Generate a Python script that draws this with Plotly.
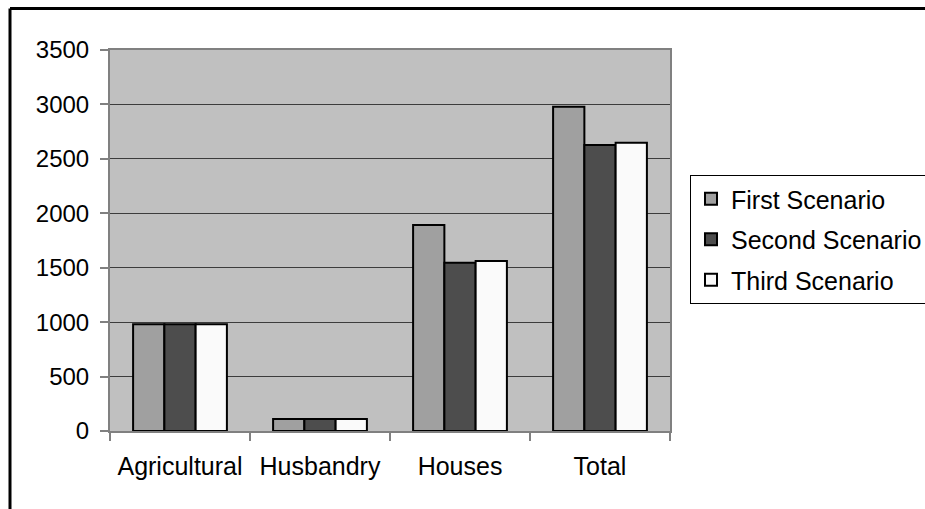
import plotly.graph_objects as go

# Categories and scenario values
categories = ["Agricultural", "Husbandry", "Houses", "Total"]
first_scenario = [980, 110, 1893, 2978]
second_scenario = [980, 110, 1545, 2628]
third_scenario = [980, 110, 1562, 2647]

series_names = ["First Scenario", "Second Scenario", "Third Scenario"]
series_values = [first_scenario, second_scenario, third_scenario]
series_colors = ["#A0A0A0", "#4D4D4D", "#FAFAFA"]

y_ticks = [0, 500, 1000, 1500, 2000, 2500, 3000, 3500]

W, H = 925, 509
L, R, T, B = 110, 255, 50, 78
pw, ph = W - L - R, H - T - B

def px_x(p):
    return (p - L) / pw

def px_y(p):
    return (H - B - p) / ph

fig = go.Figure()
for i, (name, vals, col) in enumerate(zip(series_names, series_values, series_colors)):
    fig.add_trace(go.Bar(
        x=categories, y=vals, name=name,
        marker=dict(color=col, line=dict(color="#000000", width=2)),
        legendgroup=f"g{i}",
    ))

font_family = "Liberation Sans, Arial, sans-serif"

fig.update_layout(
    width=W, height=H,
    margin=dict(l=L, r=R, t=T, b=B, pad=0, autoexpand=False),
    paper_bgcolor="#FFFFFF",
    plot_bgcolor="#C0C0C0",
    barmode="group",
    bargap=0.33,
    bargroupgap=0,
    font=dict(family=font_family, size=24, color="#000000"),
    showlegend=True,
    legend=dict(
        x=px_x(690), y=px_y(175), xanchor="left", yanchor="top",
        bgcolor="#FFFFFF", bordercolor="#000000", borderwidth=1,
        font=dict(size=25, family=font_family),
        tracegroupgap=5,
        itemwidth=30,
    ),
    xaxis=dict(
        showline=True, linecolor="#808080", linewidth=2, mirror=True,
        ticks="outside", ticklen=8, tickcolor="#808080", tickwidth=2,
        tickson="boundaries",
        showgrid=False,
        tickfont=dict(size=25),
        ticklabelstandoff=12,
    ),
    yaxis=dict(
        range=[0, 3500],
        tickvals=y_ticks,
        ticktext=[str(v) for v in y_ticks],
        showline=True, linecolor="#808080", linewidth=2, mirror=True,
        ticks="outside", ticklen=8, tickcolor="#808080", tickwidth=2,
        showgrid=True, gridcolor="#3C3C3C", gridwidth=1,
        zeroline=False,
        tickfont=dict(size=24),
        ticklabelstandoff=6,
    ),
    shapes=[
        # outer frame: top and left edges
        dict(type="line", xref="paper", yref="paper",
             x0=px_x(10), x1=px_x(1000), y0=px_y(8.5), y1=px_y(8.5),
             line=dict(color="#000000", width=3)),
        dict(type="line", xref="paper", yref="paper",
             x0=px_x(10), x1=px_x(10), y0=px_y(8.5), y1=px_y(600),
             line=dict(color="#000000", width=3)),
    ],
)

fig.write_html("out.html")
